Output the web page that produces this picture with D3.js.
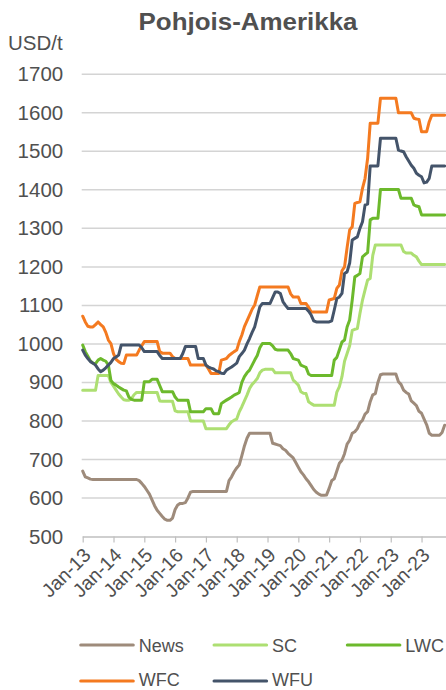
<!DOCTYPE html>
<html>
<head>
<meta charset="utf-8">
<script src="https://cdn.jsdelivr.net/npm/d3@7"></script>
<style>
  html, body { margin: 0; padding: 0; background: #ffffff; }
  svg { display: block; font-family: "Liberation Sans", Arial, sans-serif; }
</style>
</head>
<body>
<svg id="chart" width="446" height="690"></svg>
<script>
// ---- Data (monthly points, index 0 = Jan-13) ----
const xTickLabels = ["Jan-13","Jan-14","Jan-15","Jan-16","Jan-17","Jan-18","Jan-19","Jan-20","Jan-21","Jan-22","Jan-23","Jan-23"];
const yTicks = [500,600,700,800,900,1000,1100,1200,1300,1400,1500,1600,1700];
const seriesNames = ["News","SC","LWC","WFC","WFU"];

const news = [
  670,655,652,649,648,648,648,648,648,648,
  648,648,648,648,648,648,648,648,648,648,
  648,648,645,638,630,620,610,595,580,568,
  560,552,545,542,542,548,570,582,586,586,
  588,600,615,617,617,617,617,617,617,617,
  617,617,617,617,617,617,617,645,655,668,
  678,686,710,735,755,768,768,768,768,768,
  768,768,768,768,742,740,738,736,728,724,
  716,710,704,692,680,668,660,650,642,632,
  622,615,610,607,607,608,625,645,650,670,
  690,698,715,740,750,768,772,780,795,802,
  818,824,850,868,871,900,920,922,922,922,
  922,922,922,902,895,880,874,870,852,846,
  840,825,820,805,790,768,763,763,763,763,
  770,789
];
const sc = [
  880,880,880,880,880,880,918,918,918,918,
  918,900,890,880,870,862,855,854,854,858,
  868,874,874,874,874,874,874,874,874,874,
  852,851,851,851,851,851,826,824,824,824,
  824,824,800,800,800,800,800,800,780,780,
  780,780,780,780,780,780,780,790,798,802,
  805,824,837,852,867,884,895,902,910,925,
  932,934,934,934,934,925,925,925,925,925,
  925,925,906,900,893,876,872,871,850,845,
  841,841,841,841,841,841,841,841,841,875,
  889,915,955,975,995,1035,1038,1040,1079,1114,
  1140,1166,1170,1230,1257,1257,1257,1257,1257,1257,
  1257,1257,1257,1257,1257,1240,1236,1236,1236,1230,
  1226,1215,1206,1206,1206,1206,1206,1206,1206,1206,
  1206,1206
];
const lwc = [
  997,980,968,956,950,949,958,962,958,955,
  945,905,897,893,888,884,880,878,862,856,
  854,854,854,854,902,902,902,908,908,908,
  892,876,876,876,876,876,862,854,854,854,
  854,854,824,824,824,824,824,824,832,832,
  832,819,819,819,845,850,854,858,862,867,
  870,874,900,915,925,932,945,958,970,990,
  1001,1001,1001,1001,995,986,984,984,984,984,
  984,975,962,960,958,945,942,939,922,918,
  918,918,918,918,918,918,918,918,958,965,
  985,1005,1010,1044,1062,1114,1174,1178,1183,1226,
  1232,1237,1322,1326,1326,1326,1401,1401,1401,1401,
  1401,1401,1401,1401,1378,1378,1378,1378,1378,1361,
  1358,1356,1335,1335,1335,1335,1335,1335,1335,1335,
  1335,1335
];
const wfc = [
  1072,1057,1046,1044,1044,1050,1057,1050,1044,1030,
  1010,1001,975,960,954,950,949,971,971,971,
  971,971,984,995,1006,1006,1006,1006,1006,1006,
  980,976,976,976,976,967,962,962,962,962,
  962,962,945,945,945,945,945,945,945,935,
  923,923,923,923,958,960,962,970,975,980,
  984,1006,1023,1045,1060,1075,1090,1101,1125,1148,
  1148,1148,1148,1148,1148,1148,1148,1148,1148,1148,
  1148,1130,1122,1122,1122,1105,1105,1105,1095,1083,
  1083,1083,1083,1083,1083,1083,1114,1116,1118,1144,
  1153,1190,1200,1250,1296,1304,1365,1367,1369,1404,
  1430,1482,1573,1573,1573,1573,1638,1638,1638,1638,
  1638,1638,1638,1600,1600,1600,1600,1600,1600,1586,
  1584,1583,1551,1551,1551,1577,1594,1594,1594,1594,
  1594,1594
];
const wfu = [
  984,971,962,954,950,945,935,928,932,938,
  945,952,962,966,971,997,997,997,997,997,
  997,997,997,990,980,980,980,980,980,980,
  970,962,962,962,962,962,962,962,962,975,
  993,993,993,993,993,962,962,962,945,940,
  937,935,930,928,924,923,932,936,940,945,
  950,967,975,984,1000,1014,1030,1044,1070,1096,
  1105,1105,1105,1105,1120,1135,1135,1131,1110,1100,
  1092,1092,1092,1092,1092,1092,1092,1092,1085,1075,
  1060,1057,1057,1057,1057,1057,1057,1060,1088,1118,
  1122,1131,1183,1187,1210,1270,1274,1278,1300,1317,
  1361,1363,1462,1462,1462,1462,1534,1534,1534,1534,
  1534,1534,1534,1503,1501,1499,1486,1475,1464,1456,
  1443,1438,1434,1418,1420,1430,1462,1462,1462,1462,
  1462,1462
];

const seriesValues = [news, sc, lwc, wfc, wfu];
const colors = ["#9e8b7b", "#addf72", "#6cb92c", "#f47a20", "#44546a"];

// ---- Layout ----
const svg = d3.select("#chart");
const plotLeft = 82.7, plotRight = 446, plotTop = 74.3, plotBottom = 536.5;
const n = news.length;
const x = d3.scaleLinear().domain([0, n - 1]).range([plotLeft, plotLeft + (n - 1) * 2.567]);
const y = d3.scaleLinear().domain([500, 1700]).range([plotBottom, plotTop]);

// Title
svg.append("text")
  .attr("x", 248).attr("y", 29.5)
  .attr("text-anchor", "middle")
  .attr("font-size", 24).attr("font-weight", "bold")
  .attr("fill", "#505050")
  .attr("textLength", 219).attr("lengthAdjust", "spacingAndGlyphs")
  .text("Pohjois-Amerikka");

// Unit label
svg.append("text")
  .attr("x", 8).attr("y", 50)
  .attr("font-size", 20.5)
  .attr("fill", "#505050")
  .text("USD/t");

// Gridlines
svg.append("g")
  .selectAll("line")
  .data(yTicks.filter(v => v > 500))
  .join("line")
  .attr("x1", plotLeft - 1).attr("x2", plotRight)
  .attr("y1", d => y(d)).attr("y2", d => y(d))
  .attr("stroke", "#d4d4d4").attr("stroke-width", 1.5);

// Y axis
const yAxis = svg.append("g")
  .attr("transform", `translate(${plotLeft},0)`)
  .call(d3.axisLeft(y).tickValues(yTicks).tickSize(0).tickPadding(19.5).tickFormat(d3.format("d")));
yAxis.select(".domain").remove();
yAxis.selectAll("text")
  .attr("font-size", 20.5)
  .attr("font-family", "Liberation Sans, Arial, sans-serif")
  .attr("fill", "#505050");

// X axis
const xTickIdx = xTickLabels.map((d, i) => i * 12);
const xAxis = svg.append("g")
  .attr("transform", `translate(0,${plotBottom})`)
  .call(d3.axisBottom(x).tickValues(xTickIdx).tickSize(6).tickSizeOuter(0)
    .tickFormat((d, i) => xTickLabels[i]));
xAxis.select(".domain")
  .attr("d", `M${plotLeft},0.5H${plotRight}`)
  .attr("stroke", "#bfbfbf").attr("stroke-width", 1.5);
xAxis.selectAll(".tick line").attr("stroke", "#bfbfbf").attr("stroke-width", 1.2);
xAxis.selectAll(".tick text")
  .attr("font-size", 19.5)
  .attr("font-family", "Liberation Sans, Arial, sans-serif")
  .attr("fill", "#505050")
  .attr("text-anchor", "end")
  .attr("x", 0).attr("y", 0)
  .attr("dy", "0.35em")
  .attr("transform", "translate(4,15) rotate(-45)");

// Lines
const line = d3.line().x((d, i) => x(i)).y(d => y(d));
svg.append("g")
  .selectAll("path")
  .data(seriesValues)
  .join("path")
  .attr("d", d => line(d))
  .attr("fill", "none")
  .attr("stroke", (d, i) => colors[i])
  .attr("stroke-width", 3)
  .attr("stroke-linejoin", "round")
  .attr("stroke-linecap", "round");

// Legend
const legendPos = [[80.7, 645, 651.5], [214, 645, 651.5], [347.3, 645, 651.5], [80.7, 681, 685.8], [214, 681, 685.8]];
const lg = svg.append("g")
  .selectAll("g")
  .data(seriesNames)
  .join("g")
  .attr("transform", (d, i) => `translate(${legendPos[i][0]},0)`);
lg.append("line")
  .attr("x1", 0).attr("x2", 52.6)
  .attr("y1", (d, i) => legendPos[i][1]).attr("y2", (d, i) => legendPos[i][1])
  .attr("stroke", (d, i) => colors[i]).attr("stroke-width", 3)
  .attr("stroke-linecap", "round");
lg.append("text")
  .attr("x", 58).attr("y", (d, i) => legendPos[i][2])
  .attr("font-size", 18).attr("fill", "#505050")
  .text(d => d);
</script>
</body>
</html>
